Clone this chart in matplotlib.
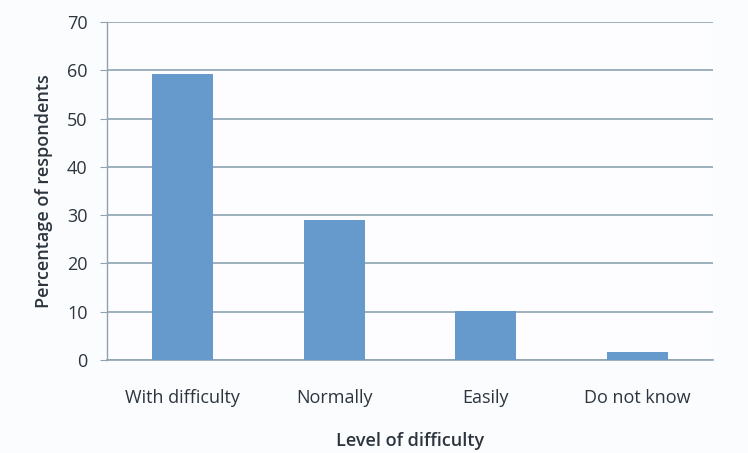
import matplotlib.pyplot as plt

categories = ['With difficulty', 'Normally', 'Easily', 'Do not know']
percentages = [59.2, 29.0, 10.2, 1.7]
y_ticks = [0, 10, 20, 30, 40, 50, 60, 70]

plt.rcParams['font.family'] = ['Open Sans', 'DejaVu Sans']

text_color = '#2c353e'
grid_color = '#8ea3b0'

fig = plt.figure(figsize=(7.48, 4.53), dpi=100, facecolor='#fbfcfe')
ax = fig.add_axes([107 / 748, 1 - 360 / 453, 606 / 748, 338 / 453])
ax.set_facecolor('#fdfdff')

ax.bar(range(len(categories)), percentages, width=0.4, color='#6699cc', zorder=3)

ax.set_xlim(-0.5, len(categories) - 0.5)
ax.set_ylim(0, 70)
ax.set_yticks(y_ticks)
ax.set_xticks(range(len(categories)))
ax.set_xticklabels(categories)

ax.yaxis.grid(True, color=grid_color, linewidth=1.2, zorder=0)
for side in ['top', 'right']:
    ax.spines[side].set_visible(False)
ax.spines['left'].set_color(grid_color)
ax.spines['bottom'].set_color(grid_color)
ax.spines['left'].set_linewidth(1.0)
ax.spines['bottom'].set_linewidth(1.2)

ax.tick_params(axis='y', length=5, color=grid_color, labelsize=13,
               labelcolor=text_color, pad=9)
ax.tick_params(axis='x', length=0, labelsize=13, labelcolor=text_color, pad=21)

ax.set_ylabel('Percentage of respondents', fontsize=13, fontweight='semibold',
              color=text_color, labelpad=10)
ax.set_xlabel('Level of difficulty', fontsize=13, fontweight='semibold',
              color=text_color, labelpad=18)

fig.savefig('out.png', dpi=100, facecolor=fig.get_facecolor())
